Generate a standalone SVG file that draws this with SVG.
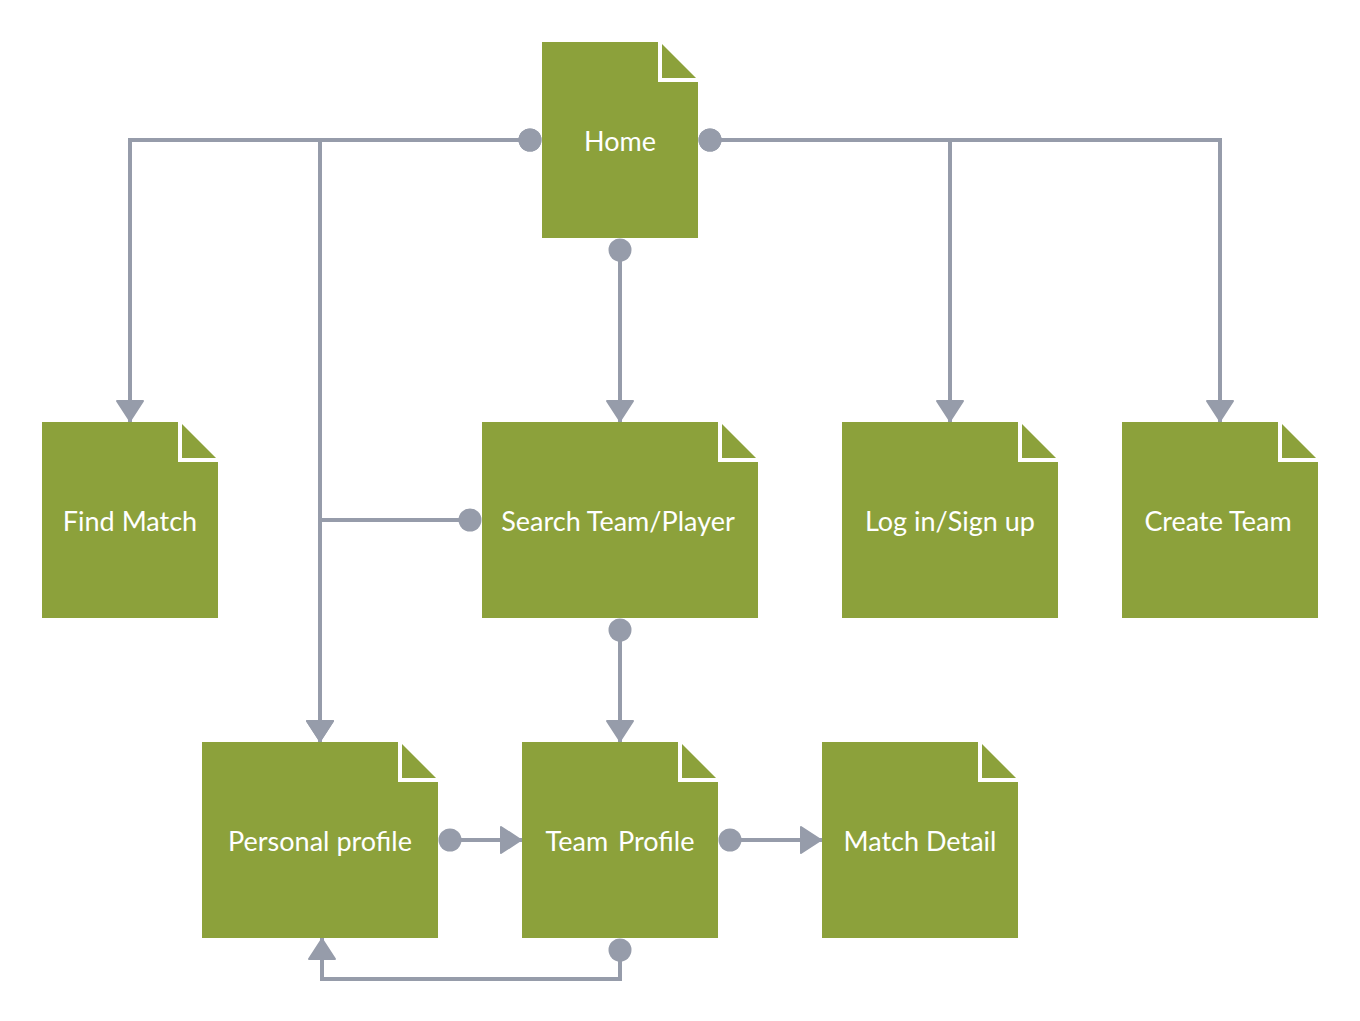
<svg xmlns="http://www.w3.org/2000/svg" width="1360" height="1021" viewBox="0 0 1360 1021">
  <style>
    .doc { fill: #8ca13b; }
    .fold { fill: none; stroke: #ffffff; stroke-width: 4; }
    .label { font-family: Lato, "Liberation Sans", sans-serif; font-size: 27px; fill: #ffffff; text-anchor: middle; }
    .link { fill: none; stroke: #969caa; stroke-width: 4; }
  </style>
  <defs>
    <marker id="dot" markerUnits="userSpaceOnUse" markerWidth="26" markerHeight="26" viewBox="-13 -13 26 26" refX="0" refY="0" orient="auto">
      <circle r="11.5" fill="#969caa"/>
    </marker>
    <marker id="arrow" markerUnits="userSpaceOnUse" markerWidth="26" markerHeight="30" viewBox="0 0 26 30" refX="23" refY="15" orient="auto">
      <path d="M2,2 L22,15 L2,28 Z" fill="#969caa" stroke="#969caa" stroke-width="2" stroke-linejoin="round"/>
    </marker>
  </defs>

  <rect width="1360" height="1021" fill="#ffffff"/>

  <!-- connectors -->
  <g id="connectors">
    <path class="link" d="M530,140 H130 V422" marker-start="url(#dot)" marker-end="url(#arrow)"/>
    <path class="link" d="M530,140 H320 V742" marker-start="url(#dot)" marker-end="url(#arrow)"/>
    <path class="link" d="M710,140 H1220 V422" marker-start="url(#dot)" marker-end="url(#arrow)"/>
    <path class="link" d="M710,140 H950 V422" marker-start="url(#dot)" marker-end="url(#arrow)"/>
    <path class="link" d="M620,250 V422" marker-start="url(#dot)" marker-end="url(#arrow)"/>
    <path class="link" d="M470,520 H320 V742" marker-start="url(#dot)" marker-end="url(#arrow)"/>
    <path class="link" d="M620,630 V742" marker-start="url(#dot)" marker-end="url(#arrow)"/>
    <path class="link" d="M450,840 H522" marker-start="url(#dot)" marker-end="url(#arrow)"/>
    <path class="link" d="M730,840 H822" marker-start="url(#dot)" marker-end="url(#arrow)"/>
    <path class="link" d="M620,950 V979 H322 V938" marker-start="url(#dot)" marker-end="url(#arrow)"/>
  </g>

  <!-- pages -->
  <g id="home">
    <path class="doc" d="M542,42 H660 L698,80 V238 H542 Z"/>
    <path class="fold" d="M660,42 V80 H698"/>
    <text class="label" x="620" y="151">Home</text>
  </g>
  <g id="find-match">
    <path class="doc" d="M42,422 H180 L218,460 V618 H42 Z"/>
    <path class="fold" d="M180,422 V460 H218"/>
    <text class="label" x="130" y="531">Find Match</text>
  </g>
  <g id="search-team-player">
    <path class="doc" d="M482,422 H720 L758,460 V618 H482 Z"/>
    <path class="fold" d="M720,422 V460 H758"/>
    <text class="label" x="618" y="531">Search Team/Player</text>
  </g>
  <g id="login-signup">
    <path class="doc" d="M842,422 H1020 L1058,460 V618 H842 Z"/>
    <path class="fold" d="M1020,422 V460 H1058"/>
    <text class="label" x="950" y="531">Log in/Sign up</text>
  </g>
  <g id="create-team">
    <path class="doc" d="M1122,422 H1280 L1318,460 V618 H1122 Z"/>
    <path class="fold" d="M1280,422 V460 H1318"/>
    <text class="label" x="1218" y="531">Create Team</text>
  </g>
  <g id="personal-profile">
    <path class="doc" d="M202,742 H400 L438,780 V938 H202 Z"/>
    <path class="fold" d="M400,742 V780 H438"/>
    <text class="label" x="320" y="851">Personal profile</text>
  </g>
  <g id="team-profile">
    <path class="doc" d="M522,742 H680 L718,780 V938 H522 Z"/>
    <path class="fold" d="M680,742 V780 H718"/>
    <text class="label" x="620" y="851" word-spacing="3">Team Profile</text>
  </g>
  <g id="match-detail">
    <path class="doc" d="M822,742 H980 L1018,780 V938 H822 Z"/>
    <path class="fold" d="M980,742 V780 H1018"/>
    <text class="label" x="920" y="851">Match Detail</text>
  </g>
</svg>
